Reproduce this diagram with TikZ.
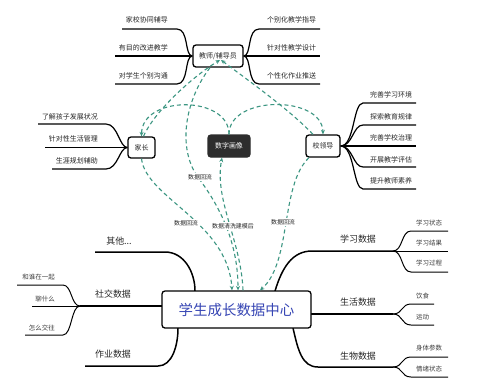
\documentclass[tikz,border=0pt]{standalone}
\usepackage{fontspec}
\setmainfont{Noto Sans CJK SC}
\usetikzlibrary{arrows.meta}
\definecolor{teal1}{RGB}{60,150,130}
\definecolor{blue1}{RGB}{55,70,180}
\definecolor{txt}{RGB}{40,40,40}
\definecolor{darkbox}{RGB}{45,45,45}
\begin{document}
\begin{tikzpicture}[x=1bp,y=-1bp,
 box/.style={draw=black, line width=1.3bp, rounded corners=3bp, fill=white, inner sep=0pt, font=\fontsize{7}{8}\selectfont, text=txt},
 lbl/.style={inner sep=0pt, font=\fontsize{7}{8}\selectfont, text=txt},
 mlbl/.style={inner sep=0pt, font=\fontsize{9}{10}\selectfont, text=txt},
 slbl/.style={inner sep=0pt, font=\fontsize{6.5}{7}\selectfont, text=txt!90},
 dlbl/.style={inner sep=1bp, fill=white, font=\fontsize{6}{7}\selectfont, text=txt},
 br/.style={line width=1.2bp, black},
 mbr/.style={line width=1.5bp, black},
 sbr/.style={line width=1bp, black},
 flow/.style={teal1, line width=1.1bp, dash pattern=on 4bp off 3bp, -{Stealth[length=4.5bp,width=4bp]}},
]
\useasboundingbox (0,0) rectangle (482,383);
\fill[white] (0,0) rectangle (482,383);

% ---------- nodes (boxes) ----------
\node[box, minimum width=50bp, minimum height=22bp] (teacher) at (218,56) {教师/辅导员};
\node[box, minimum width=27bp, minimum height=21bp] (parent) at (141.5,147.5) {家长};
\node[box, minimum width=42bp, minimum height=22bp, fill=darkbox, draw=darkbox, text=white] (portrait) at (229,146) {数字画像};
\node[box, minimum width=34bp, minimum height=22bp] (leader) at (323,146) {校领导};

% ---------- teacher branches ----------
\coordinate (ta1) at (122,29); \coordinate (ta2) at (115,56); \coordinate (ta3) at (115,84);
\coordinate (tb1) at (320,29); \coordinate (tb2) at (320,56); \coordinate (tb3) at (320,84);
\draw[br] (ta1) -- (177,29) .. controls +(12,0) and +(-8,0) .. (teacher.west);
\draw[br] (ta2) -- (teacher.west);
\draw[br] (ta3) -- (177,84) .. controls +(12,0) and +(-8,0) .. (teacher.west);
\draw[br] (teacher.east) .. controls +(8,0) and +(-12,0) .. (259,29) -- (tb1);
\draw[br] (teacher.east) -- (tb2);
\draw[br] (teacher.east) .. controls +(8,0) and +(-12,0) .. (259,84) -- (tb3);
\node[lbl, anchor=east] (t1) at (168,20) {家校协同辅导};
\node[lbl, anchor=east] (t2) at (168,48) {有目的改进教学};
\node[lbl, anchor=east] (t3) at (168,76) {对学生个别沟通};
\node[lbl, anchor=west] (t4) at (267,20) {个别化教学指导};
\node[lbl, anchor=west] (t5) at (267,48) {针对性教学设计};
\node[lbl, anchor=west] (t6) at (267,76) {个性化作业推送};

% ---------- parent branches ----------
\coordinate (pa1) at (38,124); \coordinate (pa2) at (45,147.5); \coordinate (pa3) at (52,169);
\draw[br] (pa1) -- (106,124) .. controls +(12,0) and +(-8,0) .. (parent.west);
\draw[br] (pa2) -- (parent.west);
\draw[br] (pa3) -- (106,169) .. controls +(12,0) and +(-8,0) .. (parent.west);
\node[lbl, anchor=east] (p1) at (98,117) {了解孩子发展状况};
\node[lbl, anchor=east] (p2) at (98,139) {针对性生活管理};
\node[lbl, anchor=east] (p3) at (98,161) {生涯规划辅助};

% ---------- leader branches ----------
\coordinate (la1) at (416,103); \coordinate (la2) at (416,125); \coordinate (la3) at (416,146);
\coordinate (la4) at (416,167); \coordinate (la5) at (416,189);
\draw[br] (leader.east) .. controls +(14,0) and +(-10,0) .. (363,103) -- (la1);
\draw[br] (leader.east) .. controls +(12,0) and +(-10,0) .. (363,125) -- (la2);
\draw[br] (leader.east) -- (la3);
\draw[br] (leader.east) .. controls +(12,0) and +(-10,0) .. (363,167) -- (la4);
\draw[br] (leader.east) .. controls +(14,0) and +(-10,0) .. (363,189) -- (la5);
\node[lbl, anchor=west] (l1) at (370,95) {完善学习环境};
\node[lbl, anchor=west] (l2) at (370,117) {探索教育规律};
\node[lbl, anchor=west] (l3) at (370,138) {完善学校治理};
\node[lbl, anchor=west] (l4) at (370,160) {开展教学评估};
\node[lbl, anchor=west] (l5) at (370,181) {提升教师素养};

% ---------- data center branches ----------
\coordinate (o1) at (95,252);
\coordinate (s0) at (80,306);
\coordinate (w1) at (85,366);
\coordinate (x0) at (393,251);
\coordinate (y0) at (393,314);
\coordinate (z0) at (393,367);
\draw[mbr] (o1) -- (165,252) .. controls (184,252) and (195,272) .. (195,291);
\draw[mbr] (s0) -- (162,306);
\draw[mbr] (w1) -- (158,366) .. controls (172,366) and (178,346) .. (178,328);
\draw[mbr] (275,291) .. controls (282,268) and (292,251) .. (312,251) -- (x0);
\draw[mbr] (311,314) -- (y0);
\draw[mbr] (293,328) .. controls (298,350) and (302,367) .. (318,367) -- (z0);
\node[mlbl] (m1) at (119,241) {其他...};
\node[mlbl] (m2) at (113,294) {社交数据};
\node[mlbl] (m3) at (113,354) {作业数据};
\node[mlbl] (m4) at (358,239) {学习数据};
\node[mlbl] (m5) at (358,302) {生活数据};
\node[mlbl] (m6) at (358,356) {生物数据};

% sub-branches
\coordinate (xs1) at (448,231); \coordinate (xs2) at (448,251); \coordinate (xs3) at (448,272);
\draw[sbr] (x0) .. controls +(10,0) and +(-10,0) .. (411,231) -- (xs1);
\draw[sbr] (x0) -- (xs2);
\draw[sbr] (x0) .. controls +(10,0) and +(-10,0) .. (411,272) -- (xs3);
\coordinate (ys1) at (434,304); \coordinate (ys2) at (434,325);
\draw[sbr] (y0) .. controls +(10,0) and +(-10,0) .. (411,304) -- (ys1);
\draw[sbr] (y0) .. controls +(10,0) and +(-10,0) .. (411,325) -- (ys2);
\coordinate (zs1) at (448,357); \coordinate (zs2) at (448,377);
\draw[sbr] (z0) .. controls +(10,0) and +(-10,0) .. (411,357) -- (zs1);
\draw[sbr] (z0) .. controls +(10,0) and +(-10,0) .. (411,377) -- (zs2);
\coordinate (ss1) at (17,285); \coordinate (ss2) at (32,306); \coordinate (ss3) at (25,335);
\draw[sbr] (s0) .. controls +(-9,0) and +(9,0) .. (63,285) -- (ss1);
\draw[sbr] (s0) -- (ss2);
\draw[sbr] (s0) .. controls +(-9,0) and +(9,0) .. (63,335) -- (ss3);

\node[slbl, anchor=west] (x1) at (416,223) {学习状态};
\node[slbl, anchor=west] (x2) at (416,243) {学习结果};
\node[slbl, anchor=west] (x3) at (416,263) {学习过程};
\node[slbl, anchor=west] (y1) at (416,296) {饮食};
\node[slbl, anchor=west] (y2) at (416,317) {运动};
\node[slbl, anchor=west] (z1) at (416,348) {身体参数};
\node[slbl, anchor=west] (z2) at (416,369) {情绪状态};
\node[slbl, anchor=east] (s1) at (55,277) {和谁在一起};
\node[slbl, anchor=east] (s2) at (55,299) {聊什么};
\node[slbl, anchor=east] (s3) at (55,328) {怎么交往};

% center box drawn on top of branch ends
\node[box, minimum width=149bp, minimum height=37bp, font=\fontsize{14.5}{16}\selectfont, text=blue1] (center) at (236.5,309.5) {学生成长数据中心};

% ---------- dashed flows ----------
\draw[flow] (portrait.north) .. controls (229,95) and (142,95) .. (parent.north);
\draw[flow] (portrait.north) .. controls (229,95) and (322,95) .. (leader.north);
\draw[flow] ([xshift=2bp]parent.north) .. controls (155,110) and (195,75) .. (220,60);
\draw[flow] ([xshift=-10bp]leader.north) .. controls (290,110) and (245,78) .. (221,60);
\draw[flow] ([xshift=-8bp]teacher.south) .. controls (185,100) and (176,150) .. (200,180) .. controls (222,210) and (238,245) .. ([xshift=1.5bp]center.north);
\draw[flow] (parent.south) .. controls (146,198) and (228,222) .. ([xshift=-4.5bp]center.north);
\draw[flow] ([xshift=6.5bp]center.north) .. controls (241,240) and (214,200) .. ([xshift=-7bp]portrait.south);
\draw[flow] ([xshift=-14bp]leader.south) .. controls (280,185) and (292,262) .. ([xshift=23.5bp]center.north);

\node[dlbl] (f1) at (200,177) {数据回流};
\node[dlbl] (f2) at (186,223) {数据回流};
\node[dlbl] (f3) at (233,226) {数据清洗建模后};
\node[dlbl] (f4) at (283,222) {数据回流};
\end{tikzpicture}
\end{document}
